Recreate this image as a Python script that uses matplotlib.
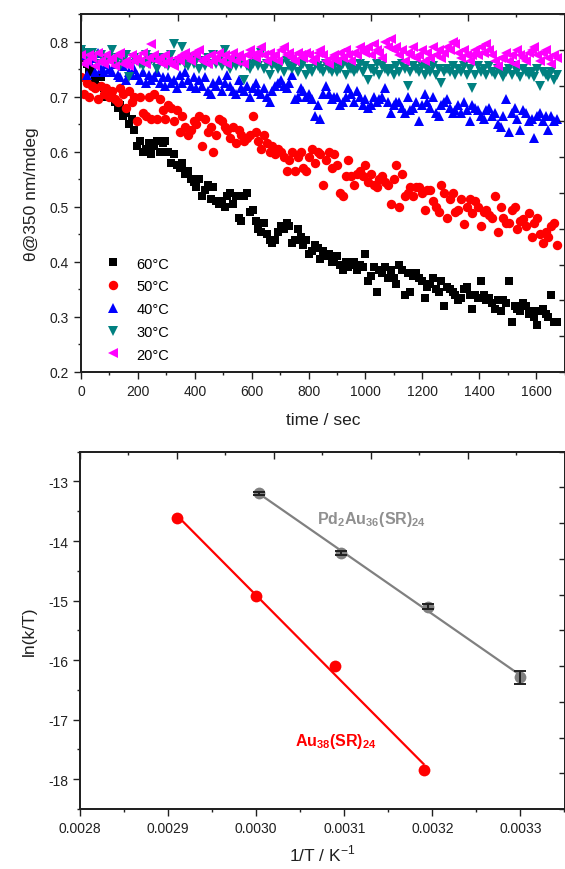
import numpy as np
import matplotlib
matplotlib.use("Agg")
import matplotlib.pyplot as plt
from matplotlib.ticker import MultipleLocator, FormatStrFormatter

plt.rcParams["font.family"] = ["Liberation Sans", "DejaVu Sans"]
plt.rcParams["axes.unicode_minus"] = False
plt.rcParams["mathtext.fontset"] = "custom"
plt.rcParams["mathtext.rm"] = "Liberation Sans"
plt.rcParams["mathtext.bf"] = "Liberation Sans:bold"

# ─── top panel: CD signal vs time ───────────────────────────────────────────
time_s = np.arange(170) * 9.9

theta_60 = [
    0.785, 0.77, 0.76, 0.745, 0.75, 0.73, 0.72, 0.735, 0.715, 0.70,
    0.71, 0.70, 0.69, 0.68, 0.685, 0.665, 0.67, 0.65, 0.66, 0.64,
    0.61, 0.62, 0.60, 0.605, 0.615, 0.595, 0.61, 0.62, 0.60, 0.615,
    0.62, 0.60, 0.58, 0.595, 0.575, 0.57, 0.58, 0.56, 0.565, 0.55,
    0.545, 0.535, 0.55, 0.52, 0.53, 0.54, 0.515, 0.535, 0.51, 0.505,
    0.51, 0.50, 0.52, 0.525, 0.505, 0.52, 0.48, 0.475, 0.52, 0.525,
    0.49, 0.495, 0.475, 0.46, 0.455, 0.47, 0.45, 0.44, 0.435, 0.44,
    0.455, 0.465, 0.46, 0.47, 0.465, 0.435, 0.44, 0.46, 0.445, 0.43,
    0.44, 0.415, 0.42, 0.43, 0.425, 0.405, 0.42, 0.41, 0.415, 0.40,
    0.405, 0.41, 0.395, 0.385, 0.40, 0.39, 0.395, 0.40, 0.385, 0.395,
    0.39, 0.415, 0.365, 0.375, 0.39, 0.345, 0.385, 0.38, 0.39, 0.37,
    0.385, 0.37, 0.36, 0.395, 0.385, 0.34, 0.38, 0.345, 0.375, 0.38,
    0.37, 0.365, 0.335, 0.355, 0.36, 0.37, 0.35, 0.345, 0.365, 0.32,
    0.355, 0.35, 0.345, 0.34, 0.33, 0.335, 0.35, 0.355, 0.34, 0.315,
    0.34, 0.335, 0.365, 0.34, 0.33, 0.335, 0.325, 0.315, 0.33, 0.31,
    0.33, 0.325, 0.365, 0.29, 0.32, 0.315, 0.31, 0.325, 0.32, 0.305,
    0.31, 0.30, 0.285, 0.31, 0.315, 0.305, 0.30, 0.34, 0.29, 0.29,
]
theta_50 = [
    0.735, 0.705, 0.725, 0.70, 0.72, 0.715, 0.695, 0.72, 0.705, 0.715,
    0.70, 0.71, 0.695, 0.69, 0.715, 0.705, 0.68, 0.71, 0.69, 0.70,
    0.655, 0.70, 0.67, 0.665, 0.70, 0.66, 0.705, 0.66, 0.695, 0.675,
    0.66, 0.685, 0.68, 0.655, 0.675, 0.635, 0.665, 0.645, 0.63, 0.64,
    0.655, 0.65, 0.665, 0.61, 0.66, 0.635, 0.645, 0.60, 0.63, 0.66,
    0.655, 0.645, 0.64, 0.625, 0.645, 0.615, 0.64, 0.63, 0.62, 0.625,
    0.63, 0.665, 0.635, 0.62, 0.605, 0.63, 0.615, 0.60, 0.61, 0.595,
    0.605, 0.60, 0.59, 0.565, 0.585, 0.60, 0.565, 0.59, 0.60, 0.57,
    0.565, 0.59, 0.605, 0.58, 0.60, 0.595, 0.54, 0.585, 0.60, 0.57,
    0.595, 0.575, 0.525, 0.52, 0.555, 0.585, 0.555, 0.54, 0.56, 0.565,
    0.555, 0.575, 0.545, 0.56, 0.54, 0.535, 0.55, 0.555, 0.545, 0.54,
    0.505, 0.55, 0.575, 0.50, 0.56, 0.52, 0.525, 0.535, 0.52, 0.535,
    0.535, 0.525, 0.495, 0.53, 0.53, 0.51, 0.50, 0.49, 0.54, 0.525,
    0.48, 0.515, 0.525, 0.49, 0.495, 0.515, 0.468, 0.50, 0.515, 0.488,
    0.51, 0.50, 0.465, 0.49, 0.495, 0.485, 0.48, 0.52, 0.455, 0.50,
    0.48, 0.47, 0.47, 0.495, 0.50, 0.46, 0.475, 0.478, 0.465, 0.488,
    0.445, 0.47, 0.48, 0.45, 0.435, 0.455, 0.445, 0.465, 0.47, 0.43,
]
theta_40 = [
    0.785, 0.775, 0.74, 0.765, 0.77, 0.745, 0.78, 0.75, 0.745, 0.76,
    0.75, 0.745, 0.76, 0.74, 0.735, 0.755, 0.73, 0.745, 0.74, 0.75,
    0.74, 0.73, 0.745, 0.725, 0.74, 0.73, 0.735, 0.745, 0.725, 0.735,
    0.72, 0.735, 0.725, 0.73, 0.715, 0.74, 0.725, 0.745, 0.73, 0.72,
    0.735, 0.715, 0.73, 0.72, 0.735, 0.71, 0.705, 0.725, 0.72, 0.73,
    0.71, 0.725, 0.74, 0.72, 0.71, 0.705, 0.73, 0.715, 0.71, 0.72,
    0.70, 0.715, 0.725, 0.71, 0.705, 0.715, 0.70, 0.69, 0.71, 0.72,
    0.725, 0.73, 0.72, 0.715, 0.725, 0.74, 0.695, 0.70, 0.715, 0.71,
    0.70, 0.705, 0.695, 0.665, 0.685, 0.66, 0.705, 0.72, 0.705, 0.695,
    0.70, 0.70, 0.685, 0.69, 0.70, 0.715, 0.705, 0.69, 0.71, 0.70,
    0.685, 0.695, 0.68, 0.685, 0.70, 0.69, 0.695, 0.70, 0.715, 0.69,
    0.67, 0.685, 0.69, 0.69, 0.68, 0.67, 0.70, 0.675, 0.68, 0.69,
    0.655, 0.685, 0.705, 0.69, 0.68, 0.70, 0.67, 0.665, 0.685, 0.69,
    0.695, 0.68, 0.67, 0.675, 0.685, 0.67, 0.69, 0.675, 0.655, 0.685,
    0.68, 0.675, 0.665, 0.66, 0.675, 0.68, 0.665, 0.67, 0.65, 0.645,
    0.665, 0.695, 0.635, 0.67, 0.68, 0.66, 0.64, 0.675, 0.67, 0.655,
    0.66, 0.625, 0.665, 0.67, 0.655, 0.665, 0.64, 0.665, 0.655, 0.66,
]
theta_30 = [
    0.785, 0.78, 0.775, 0.765, 0.78, 0.77, 0.76, 0.775, 0.77, 0.765,
    0.77, 0.785, 0.76, 0.77, 0.755, 0.765, 0.775, 0.735, 0.76, 0.77,
    0.765, 0.76, 0.755, 0.775, 0.76, 0.77, 0.765, 0.75, 0.77, 0.765,
    0.76, 0.755, 0.775, 0.795, 0.76, 0.765, 0.79, 0.76, 0.755, 0.77,
    0.76, 0.765, 0.75, 0.765, 0.755, 0.77, 0.76, 0.775, 0.76, 0.765,
    0.755, 0.785, 0.76, 0.75, 0.765, 0.755, 0.77, 0.76, 0.73, 0.755,
    0.75, 0.76, 0.765, 0.755, 0.78, 0.75, 0.76, 0.74, 0.755, 0.76,
    0.75, 0.76, 0.745, 0.765, 0.755, 0.75, 0.76, 0.745, 0.755, 0.76,
    0.74, 0.75, 0.745, 0.76, 0.755, 0.75, 0.745, 0.76, 0.75, 0.745,
    0.755, 0.745, 0.75, 0.76, 0.74, 0.755, 0.75, 0.745, 0.75, 0.76,
    0.745, 0.755, 0.73, 0.75, 0.745, 0.76, 0.74, 0.755, 0.75, 0.745,
    0.75, 0.74, 0.755, 0.745, 0.76, 0.75, 0.72, 0.745, 0.755, 0.75,
    0.745, 0.755, 0.74, 0.75, 0.745, 0.755, 0.74, 0.75, 0.725, 0.745,
    0.75, 0.745, 0.755, 0.74, 0.75, 0.745, 0.755, 0.74, 0.75, 0.715,
    0.74, 0.755, 0.745, 0.75, 0.74, 0.755, 0.745, 0.74, 0.75, 0.745,
    0.735, 0.745, 0.75, 0.74, 0.755, 0.745, 0.735, 0.75, 0.745, 0.74,
    0.745, 0.735, 0.75, 0.72, 0.745, 0.74, 0.735, 0.745, 0.73, 0.74,
]
theta_20 = [
    0.775, 0.76, 0.765, 0.775, 0.77, 0.755, 0.78, 0.765, 0.76, 0.775,
    0.765, 0.77, 0.755, 0.775, 0.78, 0.76, 0.765, 0.755, 0.775, 0.765,
    0.77, 0.765, 0.78, 0.76, 0.77, 0.795, 0.775, 0.765, 0.77, 0.76,
    0.775, 0.765, 0.76, 0.755, 0.77, 0.765, 0.775, 0.78, 0.77, 0.765,
    0.78, 0.775, 0.785, 0.765, 0.77, 0.76, 0.775, 0.765, 0.77, 0.78,
    0.765, 0.775, 0.76, 0.77, 0.78, 0.765, 0.775, 0.77, 0.76, 0.775,
    0.785, 0.775, 0.77, 0.78, 0.79, 0.775, 0.765, 0.78, 0.77, 0.775,
    0.765, 0.785, 0.79, 0.775, 0.78, 0.77, 0.765, 0.78, 0.775, 0.77,
    0.78, 0.775, 0.765, 0.77, 0.78, 0.785, 0.775, 0.765, 0.76, 0.77,
    0.775, 0.765, 0.78, 0.77, 0.785, 0.775, 0.765, 0.78, 0.775, 0.79,
    0.785, 0.78, 0.79, 0.775, 0.795, 0.785, 0.78, 0.77, 0.80, 0.79,
    0.805, 0.785, 0.79, 0.775, 0.785, 0.765, 0.78, 0.775, 0.79, 0.77,
    0.775, 0.785, 0.765, 0.78, 0.77, 0.79, 0.775, 0.785, 0.77, 0.78,
    0.79, 0.785, 0.80, 0.795, 0.78, 0.77, 0.785, 0.775, 0.765, 0.775,
    0.785, 0.775, 0.79, 0.78, 0.795, 0.785, 0.775, 0.765, 0.755, 0.77,
    0.77, 0.78, 0.765, 0.775, 0.76, 0.785, 0.775, 0.77, 0.765, 0.78,
    0.785, 0.79, 0.775, 0.765, 0.78, 0.785, 0.77, 0.76, 0.775, 0.77,
]

series_labels = ["60°C", "50°C", "40°C", "30°C", "20°C"]

# ─── bottom panel: Eyring plot ──────────────────────────────────────────────
au38_invT = [0.00291, 0.00300, 0.00309, 0.00319]
au38_lnkT = [-13.62, -14.92, -16.10, -17.84]

pdau_invT = [0.003003, 0.003096, 0.003195, 0.003300]
pdau_lnkT = [-13.20, -14.20, -15.10, -16.29]
pdau_err = [0.03, 0.03, 0.04, 0.11]

W, H = 565, 870
fig = plt.figure(figsize=(W / 100, H / 100), dpi=100)

AXC = "#202020"


def style_axes(ax):
    for sp in ax.spines.values():
        sp.set_linewidth(1.1)
        sp.set_color(AXC)
    ax.tick_params(which="both", direction="out", top=False, right=False,
                   color=AXC, width=1.0, labelsize=10, labelcolor="#202020")
    ax.tick_params(which="major", length=5)
    ax.tick_params(which="minor", length=2.5)
    # mirrored axes with their own (unlabelled) scale, ticks pointing in
    tx = ax.twiny()
    tx.set_xlim(0, 10)
    tx.xaxis.set_major_locator(MultipleLocator(2))
    tx.xaxis.set_minor_locator(MultipleLocator(1))
    tx.tick_params(axis="x", which="both", direction="in", top=True, bottom=False,
                   labeltop=False, color=AXC, width=1.0)
    tx.tick_params(axis="x", which="major", length=5)
    tx.tick_params(axis="x", which="minor", length=2.5)
    ty = ax.twinx()
    ty.set_ylim(0, 10)
    ty.yaxis.set_major_locator(MultipleLocator(1))
    ty.tick_params(axis="y", which="both", direction="in", right=True, left=False,
                   labelright=False, color=AXC, width=1.0, length=4)
    for t in (tx, ty):
        for sp in t.spines.values():
            sp.set_linewidth(1.1)
            sp.set_color(AXC)


# top axes
ax1 = fig.add_axes([81 / W, 1 - 373 / H, 483.5 / W, 358 / H])
markers = [("s", "#000000", 6.0), ("o", "#ff0000", 6.8), ("^", "#0000ff", 7.6),
           ("v", "#008080", 7.6), ("<", "#ff00ff", 7.6)]
for vals, lab, (mk, col, ms) in zip([theta_60, theta_50, theta_40, theta_30, theta_20],
                                    series_labels, markers):
    ax1.plot(time_s, vals, linestyle="none", marker=mk, color=col, ms=ms,
             markeredgewidth=0, label=lab)
ax1.set_xlim(0, 1700)
ax1.set_ylim(0.2, 0.85)
ax1.xaxis.set_major_locator(MultipleLocator(200))
ax1.xaxis.set_minor_locator(MultipleLocator(100))
ax1.yaxis.set_major_locator(MultipleLocator(0.1))
ax1.yaxis.set_minor_locator(MultipleLocator(0.05))
ax1.yaxis.set_major_formatter(FormatStrFormatter("%.1f"))
ax1.set_xlabel("time / sec", fontsize=12.5, color="#202020", labelpad=10)
ax1.set_ylabel("θ@350 nm/mdeg", fontsize=12.5, color="#202020", labelpad=8)
ax1.legend(loc="upper left", bbox_to_anchor=(0.0095, 0.359), frameon=False,
           fontsize=10.5, handlelength=2.0, handletextpad=0.6, labelspacing=0.6,
           borderpad=0.4)
style_axes(ax1)

# bottom axes
ax2 = fig.add_axes([80 / W, 1 - 810 / H, 484.5 / W, 357.3 / H])
p_au = np.polyfit(au38_invT, au38_lnkT, 1)
p_pd = np.polyfit(pdau_invT, pdau_lnkT, 1)
xa = np.array([au38_invT[0], au38_invT[-1]])
xp = np.array([pdau_invT[0], pdau_invT[-1]])
ax2.plot(xa, np.polyval(p_au, xa), color="#ff0000", lw=1.6, zorder=2)
ax2.plot(xp, np.polyval(p_pd, xp), color="#808080", lw=1.6, zorder=2)
ax2.plot(au38_invT, au38_lnkT, linestyle="none", marker="o", ms=8.5,
         color="#ff0000", markeredgewidth=0, zorder=3)
ax2.plot(pdau_invT, pdau_lnkT, linestyle="none", marker="o", ms=8.5,
         color="#808080", markeredgewidth=0, zorder=3)
# error bars drawn over the grey markers, as in the original
ax2.errorbar(pdau_invT, pdau_lnkT, yerr=pdau_err, fmt="none", ecolor="#202020",
             elinewidth=1.4, capsize=4.5, capthick=1.4, zorder=4)
ax2.text(0.003069, -13.62, r"$\mathbf{Pd_{2}Au_{36}(SR)_{24}}$", color="#909090",
         fontsize=11.5, ha="left", va="center")
ax2.text(0.003044, -17.35, r"$\mathbf{Au_{38}(SR)_{24}}$", color="#ff0000",
         fontsize=11.5, ha="left", va="center")
ax2.set_xlim(0.0028, 0.00335)
ax2.set_ylim(-18.5, -12.5)
ax2.xaxis.set_major_locator(MultipleLocator(0.0001))
ax2.xaxis.set_minor_locator(MultipleLocator(0.00005))
ax2.xaxis.set_major_formatter(FormatStrFormatter("%.4f"))
ax2.yaxis.set_major_locator(MultipleLocator(1))
ax2.yaxis.set_minor_locator(MultipleLocator(0.5))
ax2.set_xlabel(r"1/T / K$^{-1}$", fontsize=12.5, color="#202020", labelpad=6)
ax2.set_ylabel("ln(k/T)", fontsize=12.5, color="#202020", labelpad=8)
style_axes(ax2)

fig.savefig("out.png", dpi=100, facecolor="white")
